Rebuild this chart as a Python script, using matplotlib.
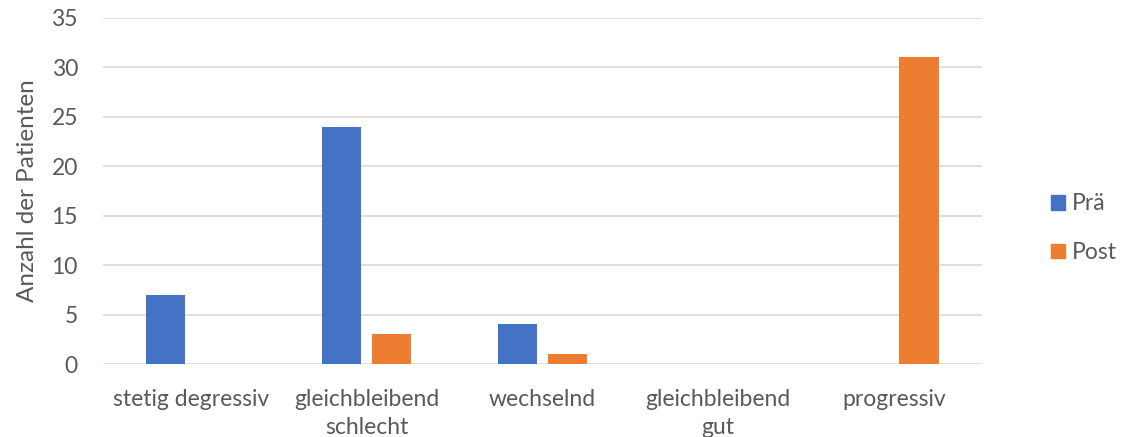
import matplotlib
matplotlib.use("Agg")
import matplotlib.pyplot as plt
import numpy as np
from matplotlib.patches import Patch

categories = ["stetig degressiv", "gleichbleibend\nschlecht", "wechselnd", "gleichbleibend\ngut", "progressiv"]
pre_values = [7, 24, 4, 0, 0]
post_values = [0, 3, 1, 0, 31]
series_names = ["Prä", "Post"]
y_ticks = [0, 5, 10, 15, 20, 25, 30, 35]

plt.rcParams["font.family"] = ["Lato", "DejaVu Sans"]
text_color = "#595959"
blue = "#4472C4"
orange = "#ED7D31"
fs = 16.5

fig = plt.figure(figsize=(11.24, 4.37), dpi=100)
ax = fig.add_axes([0.0916, 0.167, 0.782, 0.792])

x = np.arange(len(categories))
w = 0.222
off = 0.142
ax.bar(x - off, pre_values, width=w, color=blue, zorder=3)
ax.bar(x + off, post_values, width=w, color=orange, zorder=3)

ax.set_xlim(-0.5, len(categories) - 0.5)
ax.set_ylim(0, 35)
ax.set_yticks(y_ticks)
ax.set_xticks(x)
ax.set_xticklabels(categories, fontsize=fs, color=text_color, linespacing=1.4)
ax.tick_params(axis="y", labelsize=fs, labelcolor=text_color, length=0, pad=18)
ax.tick_params(axis="x", length=0, pad=18)
ax.grid(axis="y", color="#D9D9D9", linewidth=1.2, zorder=0)
for s in ax.spines.values():
    s.set_visible(False)
ax.set_ylabel("Anzahl der Patienten", fontsize=17.5, color=text_color, labelpad=10)

handles = [Patch(color=blue), Patch(color=orange)]
fig.legend(handles, series_names, loc="center left", bbox_to_anchor=(0.917, 0.478),
           frameon=False, fontsize=fs, labelcolor=text_color, handlelength=0.6,
           handleheight=0.6, handletextpad=0.3, labelspacing=1.2)

fig.savefig("out.png", dpi=100)
